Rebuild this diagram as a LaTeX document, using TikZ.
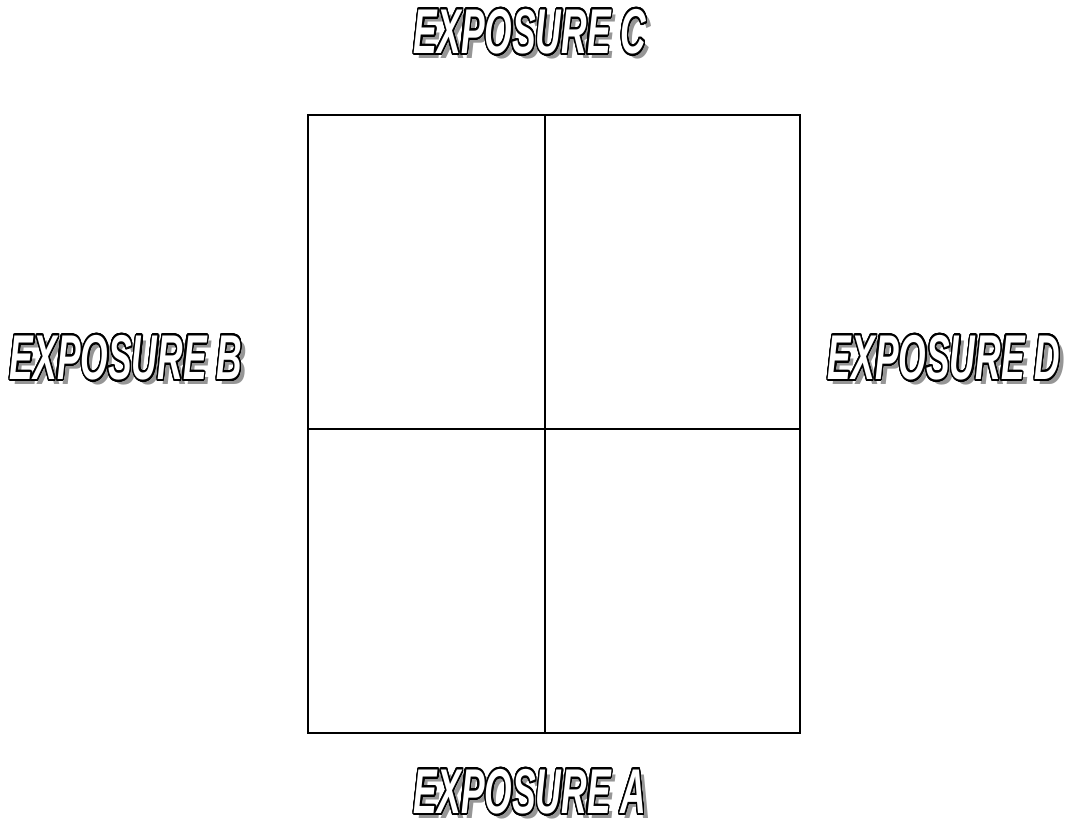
\documentclass[tikz,border=0pt]{standalone}
\usepackage{fontspec}
\setmainfont{Liberation Sans}
\usepackage{contour}
\usetikzlibrary{positioning}
\definecolor{ExpShadow}{RGB}{150,150,150}
\contourlength{1.3pt}
\contournumber{32}
\newcommand{\exptitle}[1]{\scalebox{0.56}[1]{\fontsize{36}{40}\selectfont\bfseries\itshape
  \rlap{\hspace{5pt}\raisebox{-2.8pt}{\color{ExpShadow}#1}}\contour{black}{\color{white}#1}}}

\begin{document}
\begin{tikzpicture}[
    x=0.02cm,y=-0.02cm,
    grid/.style={draw=black,line width=1.1pt},
    exposure/.style={inner sep=0pt,anchor=center}
  ]
    \useasboundingbox (0,0) rectangle (1066,820);
    % four-cell grid
    \coordinate (nw) at (308,115);
    \coordinate (se) at (800,733);
    \coordinate (midtop) at (545,115);
    \coordinate (midbot) at (545,733);
    \coordinate (midleft) at (308,429);
    \coordinate (midright) at (800,429);
    \draw[grid] (nw) rectangle (se);
    \draw[grid] (midtop) -- (midbot);
    \draw[grid] (midleft) -- (midright);
    % side labels
    \node[exposure] (expC) at (530,34) {\exptitle{EXPOSURE C}};
    \node[exposure] (expA) at (530,794) {\exptitle{EXPOSURE A}};
    \node[exposure] (expB) at (126,360) {\exptitle{EXPOSURE B}};
    \node[exposure] (expD) at (944,360) {\exptitle{EXPOSURE D}};
  \end{tikzpicture}
\end{document}
